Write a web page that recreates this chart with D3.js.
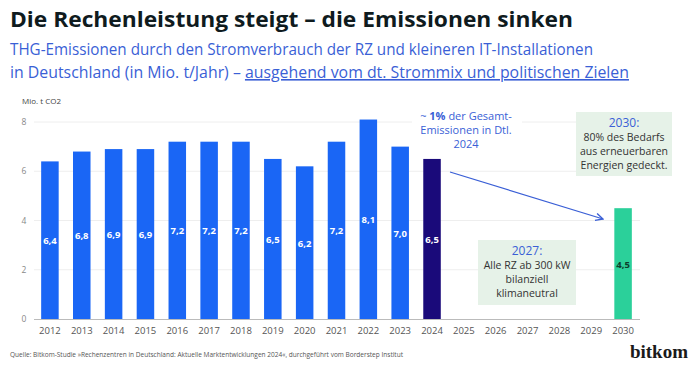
<!DOCTYPE html>
<html><head><meta charset="utf-8">
<script src="https://cdn.jsdelivr.net/npm/d3@7"></script>
<style>
html,body{margin:0;padding:0;background:#fff;}
svg{display:block;font-family:"Open Sans","Noto Sans",sans-serif;}
</style></head>
<body>
<svg id="c" width="696" height="368"></svg>
<script>
const years = ["2012","2013","2014","2015","2016","2017","2018","2019","2020","2021","2022","2023","2024","2025","2026","2027","2028","2029","2030"];
const values = [6.4,6.8,6.9,6.9,7.2,7.2,7.2,6.5,6.2,7.2,8.1,7.0,6.5,null,null,null,null,null,4.5];
const labels = ["6,4","6,8","6,9","6,9","7,2","7,2","7,2","6,5","6,2","7,2","8,1","7,0","6,5","","","","","","4,5"];
const yTicks = [0,2,4,6,8];

const svg = d3.select("#c");
const x = d3.scaleBand().domain(years).range([34,639]).paddingInner(0.45).paddingOuter(0.225);
const y = d3.scaleLinear().domain([0,8]).range([319,122]);

// title
svg.append("text").attr("x",10).attr("y",27).attr("font-size",22).attr("font-weight",700)
  .attr("fill","#0f1b1e").attr("textLength",563).attr("lengthAdjust","spacingAndGlyphs")
  .attr("font-family","'Open Sans',sans-serif")
  .text("Die Rechenleistung steigt – die Emissionen sinken");
svg.append("text").attr("x",10).attr("y",55).attr("font-size",16).attr("fill","#3a5fd6")
  .attr("textLength",583).attr("lengthAdjust","spacingAndGlyphs")
  .text("THG-Emissionen durch den Stromverbrauch der RZ und kleineren IT-Installationen");
const sub2 = svg.append("text").attr("x",10).attr("y",78).attr("font-size",16).attr("fill","#3a5fd6")
  .attr("textLength",619).attr("lengthAdjust","spacingAndGlyphs");
sub2.append("tspan").text("in Deutschland (in Mio. t/Jahr) – ");
sub2.append("tspan").attr("text-decoration","underline").text("ausgehend vom dt. Strommix und politischen Zielen");

// axis unit
svg.append("text").attr("x",22).attr("y",104).attr("font-size",8).attr("fill","#444").text("Mio. t CO2");

// grid
svg.append("g").selectAll("line").data(yTicks.filter(d=>d>0)).join("line")
  .attr("x1",34).attr("x2",640).attr("y1",d=>y(d)).attr("y2",d=>y(d))
  .attr("stroke","#eeeeee").attr("stroke-width",1);
svg.append("g").selectAll("text").data(yTicks).join("text")
  .attr("x",24).attr("y",d=>y(d)+3).attr("text-anchor","middle").attr("font-size",8.5).attr("fill","#888")
  .text(d=>d);

// white bg behind annotation
svg.append("rect").attr("x",412).attr("y",110).attr("width",110).attr("height",40).attr("fill","#fff");

// bars
const colorFor = (yr)=> yr==="2024" ? "#1a0a7a" : (yr==="2030" ? "#2bd09a" : "#1a66f5");
const bd = years.map((yr,i)=>({yr, v:values[i], l:labels[i]})).filter(d=>d.v!=null);
svg.append("g").selectAll("rect").data(bd).join("rect")
  .attr("x",d=>x(d.yr)).attr("width",x.bandwidth())
  .attr("y",d=>y(d.v)).attr("height",d=>y(0)-y(d.v)).attr("fill",d=>colorFor(d.yr));
svg.append("g").selectAll("text").data(bd).join("text")
  .attr("x",d=>x(d.yr)+x.bandwidth()/2).attr("y",d=>(y(d.v)+y(0))/2+4)
  .attr("text-anchor","middle").attr("font-size",9.5).attr("font-weight",700)
  .attr("fill",d=>d.yr==="2030"?"#0d3d2c":"#fff").text(d=>d.l);

// baseline
svg.append("line").attr("x1",34).attr("x2",640).attr("y1",319.5).attr("y2",319.5).attr("stroke","#bbb");

// x labels
svg.append("g").selectAll("text").data(years).join("text")
  .attr("x",d=>x(d)+x.bandwidth()/2).attr("y",334).attr("text-anchor","middle")
  .attr("font-size",9.5).attr("fill","#555").text(d=>d);

// annotation 1%
const a = svg.append("text").attr("text-anchor","middle").attr("font-size",11).attr("fill","#3a5fd6");
const l1 = a.append("tspan").attr("x",466).attr("y",120);
l1.append("tspan").text("~ ");
l1.append("tspan").attr("font-weight",700).text("1%");
l1.append("tspan").text(" der Gesamt-");
a.append("tspan").attr("x",466).attr("y",134).text("Emissionen in Dtl.");
a.append("tspan").attr("x",466).attr("y",148).text("2024");

// arrow
const defs = svg.append("defs");
defs.append("marker").attr("id","ah").attr("viewBox","0 0 10 10").attr("refX",9).attr("refY",5)
  .attr("markerWidth",7).attr("markerHeight",7).attr("orient","auto")
  .append("path").attr("d","M1,1 L9,5 L1,9").attr("fill","none").attr("stroke","#3a5fd6").attr("stroke-width",1.5);
svg.append("line").attr("x1",450).attr("y1",172).attr("x2",603).attr("y2",219)
  .attr("stroke","#3a5fd6").attr("stroke-width",1.3).attr("marker-end","url(#ah)");

// box 2030
svg.append("rect").attr("x",576).attr("y",112).attr("width",96).attr("height",64).attr("fill","#e6f2e8");
const b1 = svg.append("text").attr("text-anchor","middle").attr("font-size",10.5).attr("fill","#333");
b1.append("tspan").attr("x",624).attr("y",127).attr("font-size",12).attr("fill","#3a5fd6").text("2030:");
b1.append("tspan").attr("x",624).attr("y",141).text("80% des Bedarfs");
b1.append("tspan").attr("x",624).attr("y",155).text("aus erneuerbaren");
b1.append("tspan").attr("x",624).attr("y",169).text("Energien gedeckt.");

// box 2027
svg.append("rect").attr("x",478).attr("y",240).attr("width",98).attr("height",65).attr("fill","#e6f2e8");
const b2 = svg.append("text").attr("text-anchor","middle").attr("font-size",10.5).attr("fill","#333");
b2.append("tspan").attr("x",527).attr("y",255).attr("font-size",12).attr("fill","#3a5fd6").text("2027:");
b2.append("tspan").attr("x",527).attr("y",269).text("Alle RZ ab 300 kW");
b2.append("tspan").attr("x",527).attr("y",283).text("bilanziell");
b2.append("tspan").attr("x",527).attr("y",297).text("klimaneutral");

// source
svg.append("text").attr("x",10).attr("y",357).attr("font-size",6.8).attr("fill","#555")
  .attr("textLength",393).attr("lengthAdjust","spacingAndGlyphs")
  .text("Quelle: Bitkom-Studie »Rechenzentren in Deutschland: Aktuelle Marktentwicklungen 2024«, durchgeführt vom Borderstep Institut");
svg.append("text").attr("x",688).attr("y",358).attr("text-anchor","end").attr("font-size",19).attr("font-weight",700)
  .attr("font-family","'Liberation Serif',serif").attr("fill","#1a1a1a").text("bitkom");
</script>
</body></html>
